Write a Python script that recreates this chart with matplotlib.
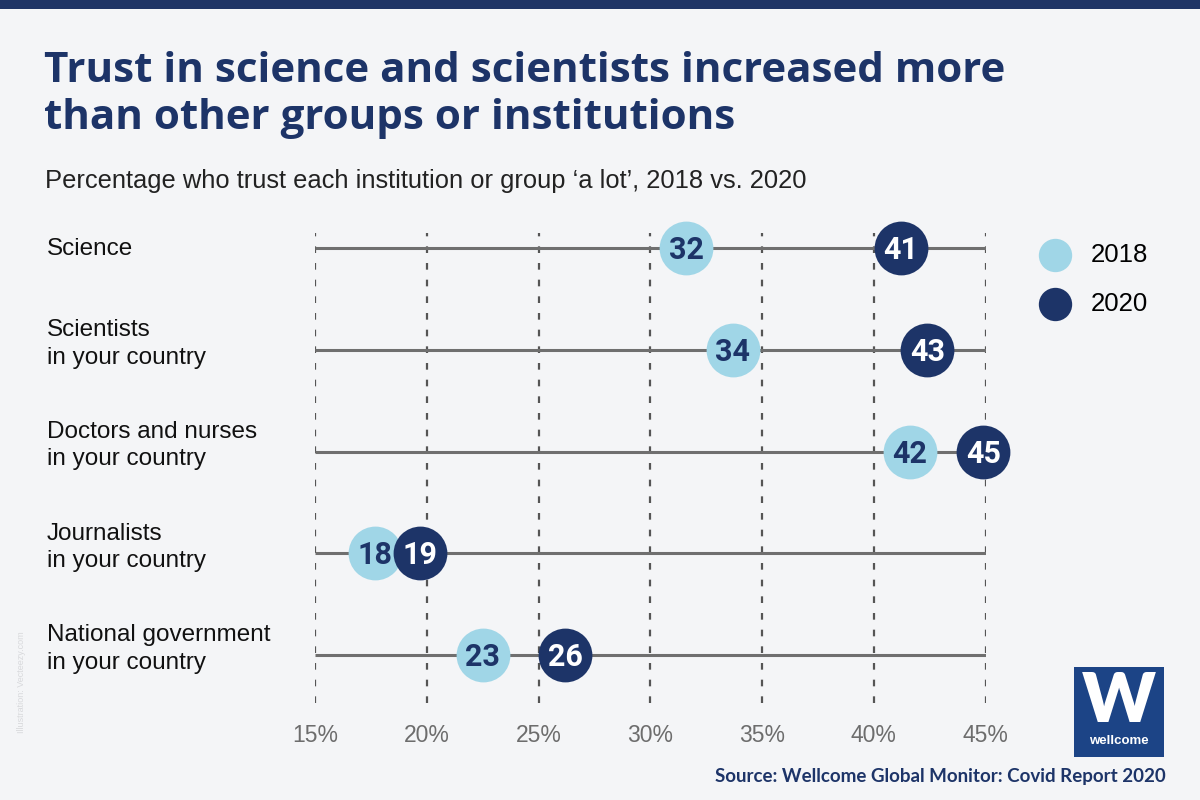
import matplotlib
matplotlib.use("Agg")
import matplotlib.pyplot as plt
from matplotlib.patches import Rectangle

# data
categories = ["Science", "Scientists\nin your country", "Doctors and nurses\nin your country",
              "Journalists\nin your country", "National government\nin your country"]
pos_2018 = [31.6, 33.7, 41.6, 17.7, 22.5]   # where the dots sit on the axis
pos_2020 = [41.2, 42.4, 44.9, 19.7, 26.2]
labels_2018 = [32, 34, 42, 18, 23]           # numbers printed in the dots
labels_2020 = [41, 43, 45, 19, 26]
xticks = [15, 20, 25, 30, 35, 40, 45]

BG = "#f4f5f7"
NAVY = "#1d3468"
LIGHT = "#a0d6e7"
LINE = "#6f6f6f"

fig = plt.figure(figsize=(12, 8), dpi=100, facecolor=BG)

# top bar
fig.add_artist(Rectangle((0, 1 - 9 / 800), 1, 9 / 800, transform=fig.transFigure,
                         color="#1f3566", lw=0))

# axes placed so that 15% -> 315px and 45% -> 985px
ax = fig.add_axes([315 / 1200, 1 - 703 / 800, 670.5 / 1200, (703 - 232.7) / 800])
ax.set_facecolor(BG)
ax.set_xlim(15, 45)
ax.set_ylim(4.47, -0.153)

for x in xticks:
    ax.axvline(x, color="#555555", lw=1.6, ls=(0, (3, 4.5)), zorder=1)

rows = list(range(len(categories)))
ax.hlines(rows, 15, 45, color=LINE, lw=2.2, zorder=2)

ax.scatter(pos_2018, rows, s=1500, color=LIGHT, zorder=3, clip_on=False, lw=0, label="2018")
ax.scatter(pos_2020, rows, s=1500, color=NAVY, zorder=4, clip_on=False, lw=0, label="2020")

for r in rows:
    ax.text(pos_2018[r], r + 0.02, str(labels_2018[r]), ha="center", va="center",
            fontsize=22, fontweight="bold", color=NAVY, family="Roboto", zorder=5)
    ax.text(pos_2020[r], r + 0.02, str(labels_2020[r]), ha="center", va="center",
            fontsize=22, fontweight="bold", color="white", family="Roboto", zorder=6)

ax.set_xticks(xticks)
ax.set_xticklabels([f"{t}%" for t in xticks], fontsize=16.5, color="#6d6d6d",
                   family="Liberation Sans")
ax.tick_params(axis="x", length=0, pad=15)
ax.set_yticks([])
for s in ax.spines.values():
    s.set_visible(False)

# category labels (two-line labels sit a little above their row)
for r, c in enumerate(categories):
    y = ax.transData.transform((15, r))[1]
    shift = -1 if "\n" not in c else 6
    fig.text(47 / 1200, (y + shift) / 800, c, ha="left", va="center", fontsize=17.5,
             color="#111111", family="Liberation Sans", linespacing=1.32)

# legend
ax.legend(loc="upper left", bbox_to_anchor=(1006 / 1200, 1 - 220 / 800),
          bbox_transform=fig.transFigure, frameon=False,
          markerscale=0.62, handletextpad=0.4, labelspacing=0.96,
          prop={"family": "Liberation Sans", "size": 18.5})

# titles
fig.text(44 / 1200, 1 - 82 / 800, "Trust in science and scientists increased more",
         fontsize=30.3, fontweight="bold", color=NAVY, family="Open Sans", va="baseline")
fig.text(44 / 1200, 1 - 129 / 800, "than other groups or institutions",
         fontsize=30.3, fontweight="bold", color=NAVY, family="Open Sans", va="baseline")
fig.text(45 / 1200, 1 - 188 / 800,
         "Percentage who trust each institution or group \u2018a lot\u2019, 2018 vs. 2020",
         fontsize=18.4, color="#222222", family="Liberation Sans", va="baseline")

# logo
fig.add_artist(Rectangle((1074 / 1200, 1 - 757 / 800), 90 / 1200, 90 / 800,
                         transform=fig.transFigure, color="#1c4486", lw=0))
fig.text(1119 / 1200, 1 - 703 / 800, "W", ha="center", va="center", fontsize=50,
         fontweight="heavy", color="white", family="Lato")
fig.text(1119 / 1200, 1 - 741 / 800, "wellcome", ha="center", va="center", fontsize=9.5,
         fontweight="bold", color="white", family="Liberation Sans")

# source
fig.text(1166 / 1200, 1 - 782 / 800, "Source: Wellcome Global Monitor: Covid Report 2020",
         ha="right", va="baseline", fontsize=13.5, fontweight="bold", color=NAVY,
         family="Lato")

# watermark
fig.text(22 / 1200, 1 - 682 / 800, "Illustration: Vecteezy.com", rotation=90,
         ha="center", va="center", fontsize=6.5, color="#d8d9dc", family="Liberation Sans")

fig.savefig("out.png", dpi=100, facecolor=BG)
